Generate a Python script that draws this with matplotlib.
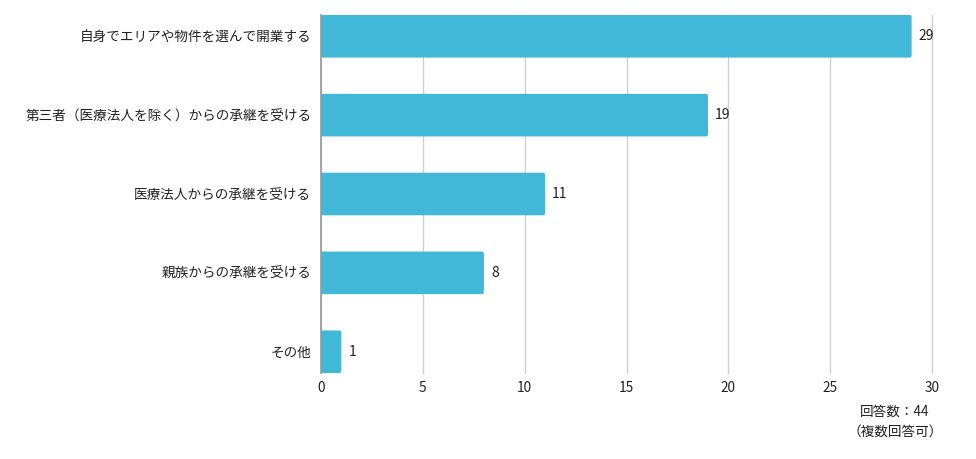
import matplotlib
matplotlib.use("Agg")
import matplotlib.pyplot as plt
from matplotlib.patches import FancyBboxPatch

plt.rcParams['font.family'] = ['Noto Sans CJK JP', 'DejaVu Sans']

categories = [
    "自身でエリアや物件を選んで開業する",
    "第三者（医療法人を除く）からの承継を受ける",
    "医療法人からの承継を受ける",
    "親族からの承継を受ける",
    "その他",
]
values = [29, 19, 11, 8, 1]
xticks = [0, 5, 10, 15, 20, 25, 30]
note_lines = ["回答数：44", "（複数回答可）"]

bar_color = "#42B8D8"
text_color = "#222222"

fig = plt.figure(figsize=(9.76, 4.59), dpi=100)
ax = fig.add_axes([321 / 976, 1 - 373 / 459, (932 - 321) / 976, (373 - 15) / 459])

y = list(range(len(categories)))
h = 0.54
bars = ax.barh(y, values, height=h, color=bar_color)

# swap the plain rectangles for ones with slightly rounded corners
for b in bars:
    x0, y0 = b.get_x(), b.get_y()
    w, hh = b.get_width(), b.get_height()
    b.set_visible(False)
    patch = FancyBboxPatch((x0, y0), w, hh,
                           boxstyle="round,pad=0,rounding_size=0.1",
                           mutation_aspect=0.258,
                           facecolor=bar_color, edgecolor="none", zorder=3)
    ax.add_patch(patch)

for yi, v in zip(y, values):
    ax.text(v + 0.35, yi, str(v), va="center", ha="left", fontsize=10, color=text_color)

ax.set_xlim(0, 30)
ax.set_ylim(len(categories) - 1 + h / 2, -h / 2)
ax.set_xticks(xticks)
ax.set_yticks(y)
ax.set_yticklabels(categories, fontsize=9.8, color=text_color)
ax.tick_params(axis="x", labelsize=9.8, colors=text_color, length=0, pad=6)
ax.tick_params(axis="y", length=0, pad=7)

ax.grid(axis="x", color="#d0d0d0", linewidth=1, zorder=0)
for gl in ax.get_xgridlines():
    gl.set_clip_on(False)
ax.set_axisbelow(True)
for s in ["top", "right", "bottom"]:
    ax.spines[s].set_visible(False)
ax.spines["left"].set_color("#999999")
ax.spines["left"].set_linewidth(1.2)
ax.spines["left"].set_zorder(4)

fig.text(895 / 976, 1 - 412 / 459, note_lines[0], ha="center", va="center",
         fontsize=9.8, color=text_color)
fig.text(895 / 976, 1 - 432 / 459, note_lines[1], ha="center", va="center",
         fontsize=9.8, color=text_color)

fig.savefig("out.png", dpi=100)
